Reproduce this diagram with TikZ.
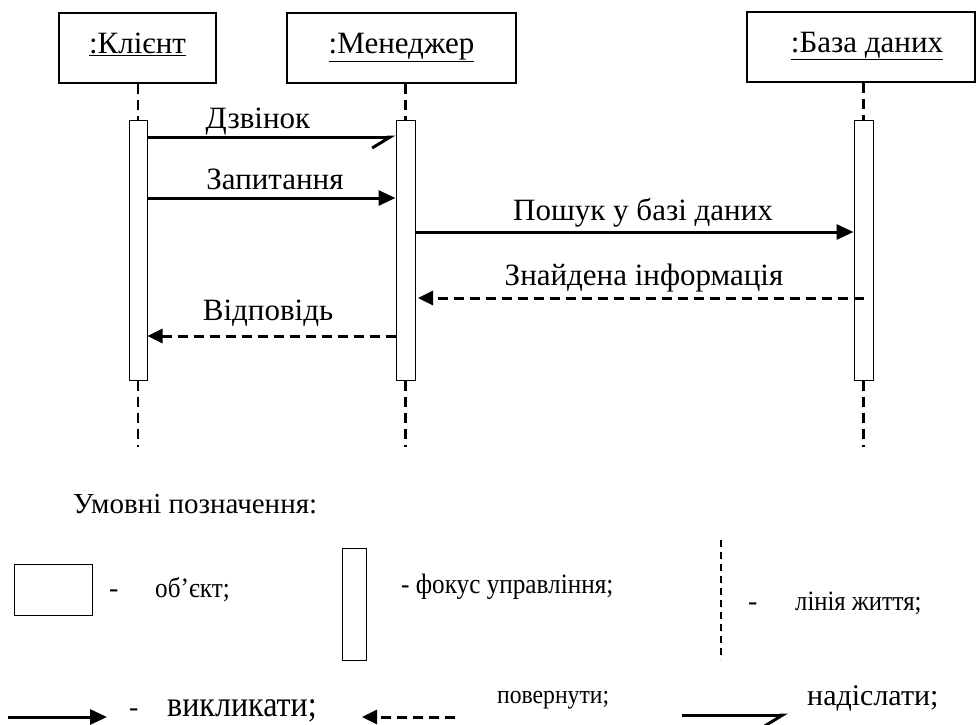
\documentclass[tikz,border=0pt]{standalone}
\usepackage{fontspec}
\setmainfont{Liberation Serif}
\usepackage{graphicx}
\usetikzlibrary{arrows.meta}
\tikzstyle{objbox} = [draw, line width=1.5pt, minimum height=70pt, inner sep=0pt, text height=15pt, text depth=5pt, font=\fontsize{31}{35}\selectfont]
\tikzstyle{actbar} = [draw, fill=white, line width=1pt, minimum width=18pt, minimum height=260pt, inner sep=0pt]
\tikzstyle{lifeline} = [line width=2.5pt, dash pattern=on 10pt off 6pt]
\tikzstyle{callmsg} = [line width=3pt, -{Triangle[length=17pt,width=15pt]}]
\tikzstyle{retmsg} = [line width=3pt, dash pattern=on 10pt off 6pt, -{Triangle[length=15pt,width=14pt]}]
\tikzstyle{sendmsg} = [line width=3pt, -{Straight Barb[harpoon,swap,length=18pt,width=22pt]}]
\tikzstyle{msglabel} = [inner sep=0pt, anchor=base, font=\fontsize{31}{35}\selectfont]
\tikzstyle{legtext} = [inner sep=0pt, anchor=base west, font=\fontsize{28}{32}\selectfont]

\begin{document}
\begin{tikzpicture}[x=1pt, y=-1pt]
\useasboundingbox (0,0) rectangle (977,724);
% objects
\node[objbox, minimum width=157pt] (client) at (137.5,48) {\underline{:Клієнт}};
\node[objbox, minimum width=229pt] (manager) at (401.5,48) {\underline{:Менеджер}};
\node[objbox, minimum width=228pt] (db) at (861,47) {\hspace*{12pt}\underline{:База даних}};
% lifelines
\coordinate (cend) at (138,447);
\coordinate (mend) at (405.5,447);
\coordinate (dbend) at (863.5,447);
\node[actbar] (cbar) at (138,250) {};
\node[actbar, minimum width=19pt] (mbar) at (405.5,250) {};
\node[actbar, minimum width=19pt] (dbbar) at (863.5,250) {};
\draw[lifeline] (cbar.north |- client.south) -- (cbar.north);
\draw[lifeline] (mbar.north |- manager.south) -- (mbar.north);
\draw[lifeline] (dbbar.north |- db.south) -- (dbbar.north);
\draw[lifeline] (cbar.south) -- (cend);
\draw[lifeline] (mbar.south) -- (mend);
\draw[lifeline] (dbbar.south) -- (dbend);
% messages
\draw[sendmsg] (cbar.east |- 0,137) -- (mbar.west |- 0,137);
\node[msglabel] (call) at (258,128) {Дзвінок};
\draw[callmsg] (cbar.east |- 0,198) -- (mbar.west |- 0,198);
\node[msglabel] (ask) at (275,189) {Запитання};
\draw[callmsg] (mbar.east |- 0,232) -- (dbbar.west |- 0,232);
\node[msglabel] (search) at (643,220) {Пошук у базі даних};
\draw[retmsg] (dbbar.center |- 0,298) -- (418,298);
\node[msglabel] (found) at (644,285) {Знайдена інформація};
\draw[retmsg] (mbar.west |- 0,336) -- (cbar.east |- 0,336);
\node[msglabel] (answer) at (268,320) {Відповідь};

% legend
\node[legtext, font=\fontsize{29}{33}\selectfont] (legend) at (73,513) {Умовні позначення:};
\node[draw, line width=1pt, minimum width=78pt, minimum height=51pt, inner sep=0pt] (legobj) at (53,589.5) {};
\node[legtext] (legobjdash) at (109,597) {-};
\node[legtext] (legobjtxt) at (155,597) {\scalebox{0.9}[1]{об’єкт;}};
\node[draw, line width=1pt, minimum width=24pt, minimum height=112pt, inner sep=0pt] (legbar) at (354,604) {};
\node[legtext] (legbartxt) at (401,593) {\scalebox{0.9}[1]{- фокус управління;}};
\coordinate (lltop) at (721,540);
\coordinate (llbot) at (721,660);
\draw[line width=2pt, dash pattern=on 7pt off 5pt] (lltop) -- (llbot);
\node[legtext] (legllash) at (748,610) {-};
\node[legtext] (leglltxt) at (795,610) {\scalebox{0.88}[1]{лінія життя;}};
\coordinate (callfrom) at (8,717);
\coordinate (callto) at (107,717);
\draw[callmsg] (callfrom) -- (callto);
\node[legtext] (legcalldash) at (129,716) {-};
\node[legtext, font=\fontsize{36}{40}\selectfont] (legcalltxt) at (167,716) {\scalebox{0.89}[1]{викликати;}};
\coordinate (retfrom) at (455,717);
\coordinate (retto) at (362,717);
\draw[retmsg] (retfrom) -- (retto);
\node[legtext, font=\fontsize{26}{30}\selectfont] (legrettxt) at (497,703) {\scalebox{0.91}[1]{повернути;}};
\coordinate (sendfrom) at (682,715);
\coordinate (sendto) at (788,715);
\draw[sendmsg] (sendfrom) -- (sendto);
\node[legtext, font=\fontsize{30}{34}\selectfont] (legsendtxt) at (807,705) {надіслати;};
\end{tikzpicture}
\end{document}
